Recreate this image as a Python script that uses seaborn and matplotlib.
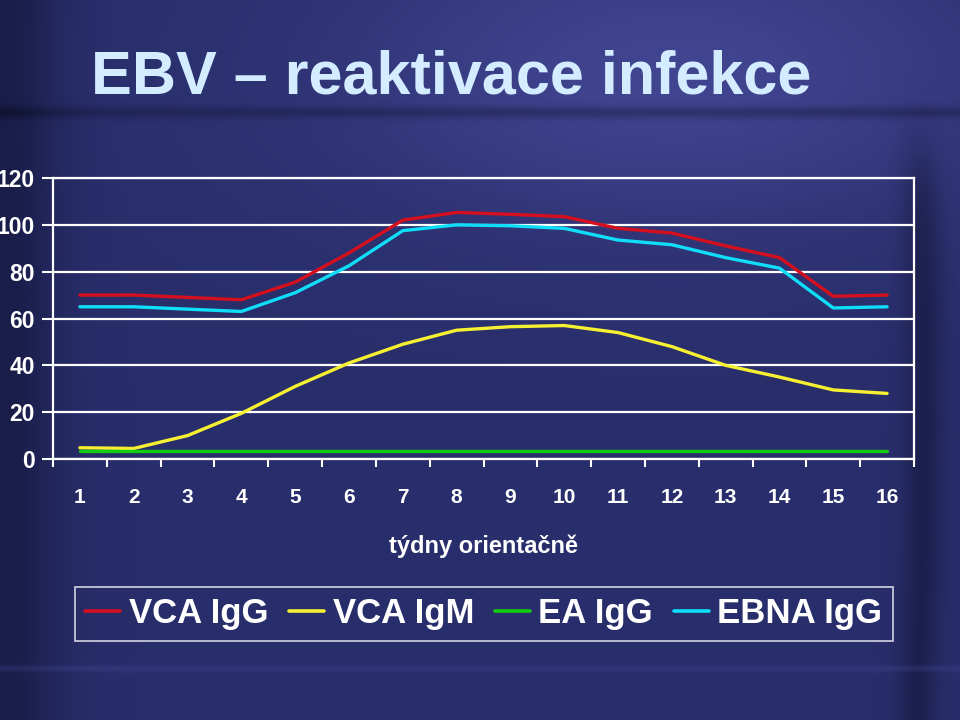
import numpy as np
import pandas as pd
import seaborn as sns
import matplotlib.pyplot as plt
from matplotlib.lines import Line2D

# values (weeks 1-16)
weeks = list(range(1, 17))
vca_igg = [70, 70, 69, 68, 75.5, 88, 102, 105.3, 104.5, 103.5, 98.5, 96.5, 91, 86, 69.5, 70]
vca_igm = [4.8, 4.5, 10, 19.5, 31, 41, 49, 55, 56.5, 57, 54, 48, 40, 35, 29.5, 28]
ea_igg = [3.5] * 16
ebna_igg = [65, 65, 64, 63, 71, 82.5, 97.5, 100, 99.6, 98.5, 93.5, 91.5, 86, 81.5, 64.5, 65]

series_names = ['VCA IgG', 'VCA IgM', 'EA IgG', 'EBNA IgG']
series_colors = ['#d4101e', '#f5f032', '#12cc12', '#10def8']
y_ticks = [0, 20, 40, 60, 80, 100, 120]

df = pd.DataFrame({'week': weeks, 'VCA IgG': vca_igg, 'VCA IgM': vca_igm,
                   'EA IgG': ea_igg, 'EBNA IgG': ebna_igg})
df_long = df.melt(id_vars='week', var_name='series', value_name='value')

sns.set_theme(style='white')
plt.rcParams['font.family'] = ['Liberation Sans', 'DejaVu Sans']
plt.rcParams['font.weight'] = 'bold'

fig = plt.figure(figsize=(9.6, 7.2), dpi=100)

# slide background: dark blue gradient
H, W = 720, 960
yy, xx = np.mgrid[0:H, 0:W]
xn, yn = xx / W, yy / H
base = np.array([0.16, 0.18, 0.42])
light = np.array([0.28, 0.29, 0.60])
dark = np.array([0.06, 0.07, 0.19])
img = np.ones((H, W, 3)) * base
w_light = 0.8 * np.exp(-(((xn - 0.70) / 0.35) ** 2 + ((yn - 0.10) / 0.22) ** 2))
img = img * (1 - w_light[..., None]) + light * w_light[..., None]
w_dark = 0.6 * np.exp(-((xn - 0.0) / 0.06) ** 2)
right_on = 1 / (1 + np.exp(-(yn - 0.22) / 0.03))
w_dark += 0.5 * np.exp(-((xn - (0.962 - 0.04 * (yn - 0.55) ** 2)) / 0.02) ** 2) * right_on
w_dark += 0.35 * np.exp(-((yy - 112) / 6) ** 2)
w_dark = np.clip(w_dark, 0, 1)
img = img * (1 - w_dark[..., None]) + dark * w_dark[..., None]
w_streak = 0.3 * np.exp(-((yy - 668) / 3) ** 2)
img = img * (1 - w_streak[..., None]) + light * w_streak[..., None]
bg = fig.add_axes([0, 0, 1, 1], zorder=-10)
bg.imshow(img, aspect='auto')
bg.axis('off')

ax = fig.add_axes([53 / 960, 1 - 459 / 720, (914 - 53) / 960, (459 - 178) / 720])
ax.patch.set_alpha(0)

sns.lineplot(data=df_long, x='week', y='value', hue='series', hue_order=series_names,
             palette=series_colors, linewidth=2.4, legend=False, ax=ax)
for ln in ax.lines:
    ln.set_solid_joinstyle('round')
    ln.set_solid_capstyle('round')

ax.set_xlim(0.5, 16.5)
ax.set_ylim(0, 120)
ax.set_xticks(weeks)
ax.set_xticklabels([str(w) for w in weeks])
ax.set_xticks(np.arange(0.5, 17, 1), minor=True)
ax.set_yticks(y_ticks)
ax.yaxis.grid(True, color='white', linewidth=1.6)
ax.set_axisbelow(True)
for side in ['left', 'right', 'bottom', 'top']:
    ax.spines[side].set_visible(True)
    ax.spines[side].set_color('white')
    ax.spines[side].set_linewidth(1.6)

ax.tick_params(axis='x', which='major', length=0, pad=21, labelsize=15, labelcolor='white')
ax.tick_params(axis='x', which='minor', bottom=True, length=6, width=1.5, color='white')
ax.tick_params(axis='y', left=True, length=8, width=1.5, color='white', pad=5,
               labelsize=16.5, labelcolor='white')
ax.set_xlabel('týdny orientačně', color='white', fontsize=17, fontweight='bold', labelpad=20)
ax.set_ylabel('')

fig.text(0.47, 1 - 78 / 720, 'EBV – reaktivace infekce', fontsize=44, fontweight='bold',
         color='#d4ecff', ha='center', va='center')

handles = [Line2D([0], [0], color=c, linewidth=2.6) for c in series_colors]
leg = fig.legend(handles, series_names, loc='center', bbox_to_anchor=(0.504, 1 - 614 / 720),
                 ncol=4, frameon=True, fancybox=False, fontsize=25, handlelength=1.0,
                 handletextpad=0.25, columnspacing=0.6, borderpad=0.3)
leg.get_frame().set_facecolor('none')
leg.get_frame().set_edgecolor('white')
leg.get_frame().set_linewidth(1.2)
for t in leg.get_texts():
    t.set_color('white')

fig.savefig('out.png', dpi=100)
